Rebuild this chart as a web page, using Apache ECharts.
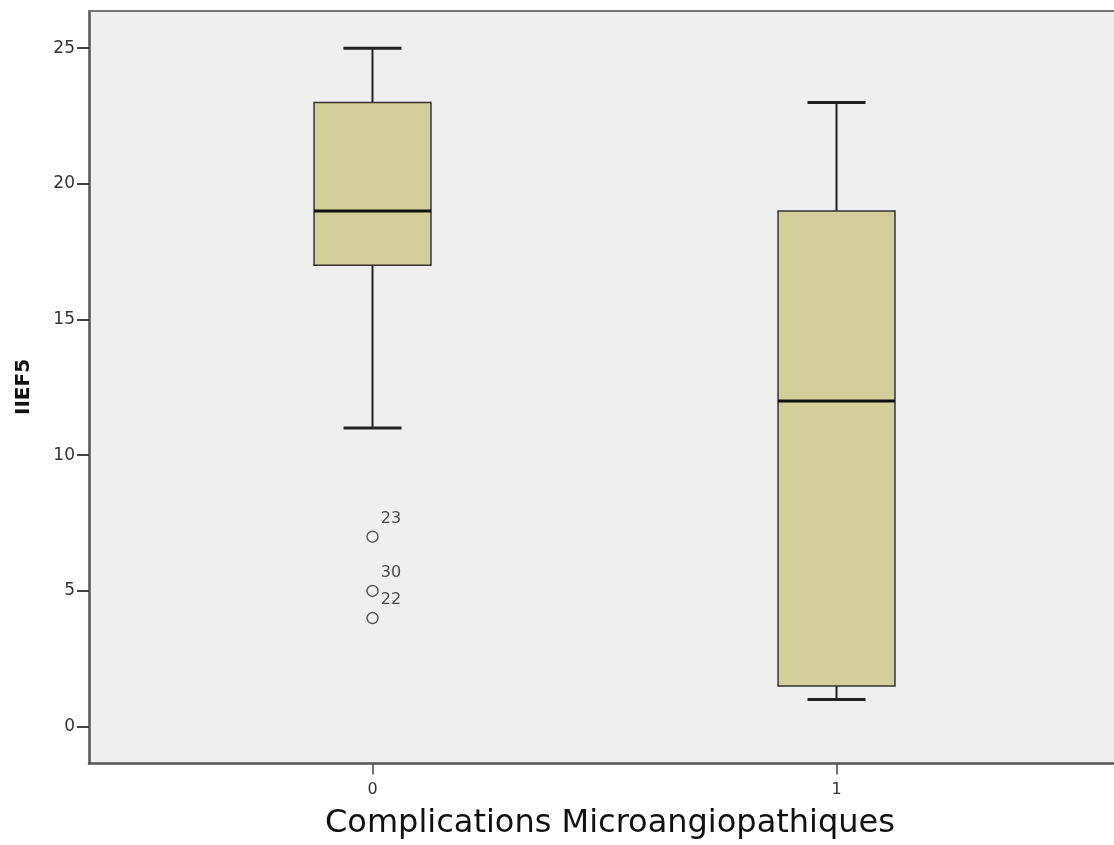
<!DOCTYPE html>
<html>
<head>
<meta charset="utf-8">
<script src="https://cdn.jsdelivr.net/npm/echarts@6/dist/echarts.min.js"></script>
<style>
html,body{margin:0;padding:0;background:#fff;}
#chart{width:1114px;height:845px;}
</style>
</head>
<body>
<div id="chart"></div>
<script>
// Data
const categories = [0, 1];
const whiskerLow = [11, 1];
const q1 = [17, 1.5];
const median = [19, 12];
const q3 = [23, 19];
const whiskerHigh = [25, 23];
const outlierGroup = [0, 0, 0];
const outlierValue = [7, 5, 4];
const outlierLabel = ['23', '30', '22'];
const yTicks = [0, 5, 10, 15, 20, 25];
const xTitle = 'Complications Microangiopathiques';
const yTitle = 'IIEF5';

const boxData = categories.map((c, i) => [c, whiskerLow[i], q1[i], median[i], q3[i], whiskerHigh[i]]);
const outlierData = outlierValue.map((v, i) => ({ value: [outlierGroup[i], v], name: outlierLabel[i] }));

const BOX_HALF = 0.126;
const CAP_HALF = 0.0625;
const XMIN = -0.611, XMAX = 1.598;

const chart = echarts.init(document.getElementById('chart'), null, { renderer: 'canvas' });
const FONT = 'DejaVu Sans';

chart.setOption({
  backgroundColor: '#ffffff',
  animation: false,
  grid: {
    left: 89, top: 11, bottom: 81.5, right: 0,
    show: true, backgroundColor: '#efefef', borderWidth: 0
  },
  xAxis: [{
    type: 'value', min: XMIN, max: XMAX,
    splitLine: { show: false },
    axisLine: { show: true, onZero: false, lineStyle: { color: '#555', width: 2.5 } },
    axisTick: { show: true, length: 11, customValues: categories, lineStyle: { color: '#444', width: 1.5 } },
    axisLabel: { customValues: categories, margin: 18, fontFamily: FONT, fontSize: 16, color: '#333' }
  }, {
    type: 'value', position: 'top', min: XMIN, max: XMAX,
    splitLine: { show: false },
    axisLine: { show: true, onZero: false, lineStyle: { color: '#777', width: 2 } },
    axisTick: { show: false }, axisLabel: { show: false }
  }],
  yAxis: {
    type: 'value', min: -1.36, max: 26.37,
    splitLine: { show: false },
    axisLine: { show: true, onZero: false, lineStyle: { color: '#555', width: 2.5 } },
    axisTick: { show: true, length: 12, customValues: yTicks, lineStyle: { color: '#444', width: 2 } },
    axisLabel: { customValues: yTicks, margin: 14, fontFamily: FONT, fontSize: 17, color: '#333' }
  },
  graphic: [
    { type: 'text', left: 325, top: 808, style: { text: xTitle, fontFamily: FONT, fontSize: 32, fill: '#111' } },
    { type: 'text', x: 24, y: 387, rotation: Math.PI / 2,
      style: { text: yTitle, align: 'center', verticalAlign: 'middle', fontFamily: FONT, fontSize: 20, fontWeight: 'bold', fill: '#111' } }
  ],
  series: [
    {
      type: 'custom',
      data: boxData,
      encode: { x: 0, y: [1, 2, 3, 4, 5] },
      renderItem: function (params, api) {
        const x = api.value(0);
        const lo = api.coord([x, api.value(1)]);
        const b1 = api.coord([x, api.value(2)]);
        const md = api.coord([x, api.value(3)]);
        const b3 = api.coord([x, api.value(4)]);
        const hi = api.coord([x, api.value(5)]);
        const left = api.coord([x - BOX_HALF, 0])[0];
        const right = api.coord([x + BOX_HALF, 0])[0];
        const cl = api.coord([x - CAP_HALF, 0])[0];
        const cr = api.coord([x + CAP_HALF, 0])[0];
        const wStyle = { stroke: '#222', lineWidth: 2, fill: null };
        return {
          type: 'group',
          children: [
            { type: 'line', shape: { x1: hi[0], y1: hi[1], x2: b3[0], y2: b3[1] }, style: wStyle },
            { type: 'line', shape: { x1: lo[0], y1: lo[1], x2: b1[0], y2: b1[1] }, style: wStyle },
            { type: 'line', shape: { x1: cl, y1: hi[1], x2: cr, y2: hi[1] }, style: { stroke: '#222', lineWidth: 3 } },
            { type: 'line', shape: { x1: cl, y1: lo[1], x2: cr, y2: lo[1] }, style: { stroke: '#222', lineWidth: 3 } },
            { type: 'rect', shape: { x: left, y: b3[1], width: right - left, height: b1[1] - b3[1] },
              style: { fill: '#d4cf9a', stroke: '#333', lineWidth: 1.5 } },
            { type: 'line', shape: { x1: left, y1: md[1], x2: right, y2: md[1] }, style: { stroke: '#111', lineWidth: 3 } }
          ]
        };
      }
    },
    {
      type: 'scatter',
      data: outlierData,
      symbol: 'circle',
      symbolSize: 11,
      itemStyle: { color: 'rgba(0,0,0,0)', borderColor: '#333', borderWidth: 1.5 },
      label: {
        show: true, formatter: '{b}', position: [14.5, -12], align: 'left', verticalAlign: 'middle',
        fontFamily: FONT, fontSize: 16, color: '#222'
      }
    }
  ]
});
</script>
</body>
</html>
